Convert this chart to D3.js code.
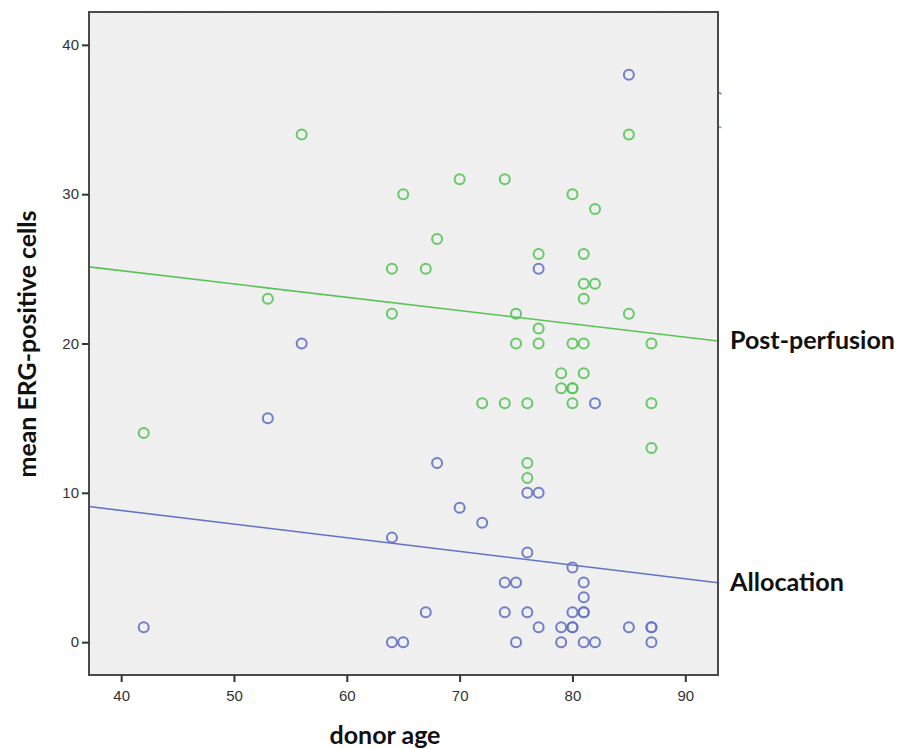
<!DOCTYPE html>
<html>
<head>
<meta charset="utf-8">
<script src="https://cdn.jsdelivr.net/npm/d3@7"></script>
<style>
  html, body { margin: 0; padding: 0; background: #ffffff; }
  svg { display: block; }
</style>
</head>
<body>
<svg id="chart" width="900" height="749"></svg>
<script>
// Donor age vs. mean ERG-positive cells, two sampling time points
const allocationAge = [42, 53, 56, 64, 64, 65, 67, 68, 70, 72, 74, 74, 75, 75, 76, 76, 76, 77, 77, 77,
  79, 79, 80, 80, 80, 80, 81, 81, 81, 81, 81, 82, 82, 85, 85, 87, 87, 87];
const allocationCells = [1, 15, 20, 7, 0, 0, 2, 12, 9, 8, 4, 2, 4, 0, 10, 6, 2, 25, 10, 1,
  1, 0, 5, 2, 1, 1, 4, 3, 2, 2, 0, 16, 0, 38, 1, 1, 1, 0];

const perfusionAge = [42, 53, 56, 64, 64, 65, 67, 68, 70, 72, 74, 74, 75, 75, 76, 76, 76, 77, 77, 77,
  79, 79, 80, 80, 80, 80, 80, 81, 81, 81, 81, 81, 82, 82, 85, 85, 87, 87, 87];
const perfusionCells = [14, 23, 34, 25, 22, 30, 25, 27, 31, 16, 31, 16, 22, 20, 16, 12, 11, 26, 21, 20,
  18, 17, 30, 20, 17, 17, 16, 26, 24, 23, 20, 18, 29, 24, 34, 22, 20, 16, 13];

// Linear fit lines: value at the left and right ends of the x range
const fitX = [37.15, 92.9];
const allocationFit = [9.08, 3.98];
const perfusionFit = [25.13, 20.17];

const xTicks = [40, 50, 60, 70, 80, 90];
const yTicks = [0, 10, 20, 30, 40];
const seriesLabels = ["Allocation", "Post-perfusion"];
const axisTitles = ["donor age", "mean ERG-positive cells"];

const blue = "#6372c4";
const green = "#58c458";

const svg = d3.select("#chart");
const plot = { left: 89, top: 12, right: 718, bottom: 675 };

const x = d3.scaleLinear().domain([37.15, 92.9]).range([plot.left, plot.right]);
const y = d3.scaleLinear().domain([-2.2, 42.2]).range([plot.bottom, plot.top]);

// Plot background with a faint grain
const defs = svg.append("defs");
const grain = defs.append("filter").attr("id", "grain").attr("x", 0).attr("y", 0).attr("width", 1).attr("height", 1);
grain.append("feTurbulence").attr("type", "fractalNoise").attr("baseFrequency", 0.9).attr("numOctaves", 1).attr("seed", 3).attr("result", "n");
grain.append("feColorMatrix").attr("in", "n").attr("type", "matrix")
  .attr("values", "0 0 0 0 0.6  0 0 0 0 0.6  0 0 0 0 0.6  0 0 0 0.06 0").attr("result", "g");
grain.append("feComposite").attr("in", "g").attr("in2", "SourceGraphic").attr("operator", "in").attr("result", "gi");
grain.append("feMerge").selectAll("feMergeNode").data(["SourceGraphic", "gi"]).join("feMergeNode").attr("in", d => d);

svg.append("rect")
  .attr("x", plot.left).attr("y", plot.top)
  .attr("width", plot.right - plot.left).attr("height", plot.bottom - plot.top)
  .attr("fill", "#f1f1f1")
  .attr("filter", "url(#grain)");

// Fit lines
const line = d3.line().x(d => x(d[0])).y(d => y(d[1]));
svg.append("path")
  .datum(fitX.map((v, i) => [v, perfusionFit[i]]))
  .attr("d", line).attr("fill", "none").attr("stroke", green).attr("stroke-width", 1.6);
svg.append("path")
  .datum(fitX.map((v, i) => [v, allocationFit[i]]))
  .attr("d", line).attr("fill", "none").attr("stroke", blue).attr("stroke-width", 1.6);

// Points
function drawPoints(ages, cells, color) {
  svg.append("g").selectAll("circle")
    .data(ages.map((a, i) => [a, cells[i]]))
    .join("circle")
    .attr("cx", d => x(d[0]))
    .attr("cy", d => y(d[1]))
    .attr("r", 5)
    .attr("fill", "none")
    .attr("stroke", color)
    .attr("stroke-width", 2)
    .attr("stroke-opacity", 0.9);
}
drawPoints(perfusionAge, perfusionCells, green);
drawPoints(allocationAge, allocationCells, blue);

// Frame
svg.append("rect")
  .attr("x", plot.left).attr("y", plot.top)
  .attr("width", plot.right - plot.left).attr("height", plot.bottom - plot.top)
  .attr("fill", "none").attr("stroke", "#4a4a4a").attr("stroke-width", 2);

// Small connector stubs on the right edge
svg.append("path").attr("d", `M${plot.right + 1},${y(36.8)} l2.5,1.5`).attr("stroke", blue).attr("stroke-width", 1.5).attr("fill", "none");
svg.append("path").attr("d", `M${plot.right + 1},${y(34.5)} l2.5,0.5`).attr("stroke", green).attr("stroke-width", 1.5).attr("fill", "none");

// Axes
const xAxis = svg.append("g")
  .attr("transform", `translate(0,${plot.bottom})`)
  .call(d3.axisBottom(x).tickValues(xTicks).tickSize(7).tickPadding(8).tickFormat(d3.format("d")));
const yAxis = svg.append("g")
  .attr("transform", `translate(${plot.left},0)`)
  .call(d3.axisLeft(y).tickValues(yTicks).tickSize(7).tickPadding(3).tickFormat(d3.format("d")));
[xAxis, yAxis].forEach(g => {
  g.select(".domain").remove();
  g.selectAll(".tick line").attr("stroke", "#333").attr("stroke-width", 2);
  g.selectAll(".tick text")
    .attr("fill", "#333")
    .style("font-family", "'Liberation Sans', Arial, sans-serif")
    .style("font-size", "15px");
});

// Text labels
function fitText(sel, width) {
  const w = sel.node().getComputedTextLength();
  const fs = parseFloat(sel.style("font-size"));
  sel.style("font-size", (fs * width / w).toFixed(2) + "px");
}
const labelFont = "Lato, 'Open Sans', sans-serif";

const postLbl = svg.append("text")
  .attr("x", 730).attr("y", y(perfusionFit[1]) + 8)
  .style("font-family", labelFont).style("font-weight", "bold").style("font-size", "22px")
  .attr("fill", "#111").text(seriesLabels[1]);
fitText(postLbl, 165);

const allocLbl = svg.append("text")
  .attr("x", 730).attr("y", y(allocationFit[1]) + 8)
  .style("font-family", labelFont).style("font-weight", "bold").style("font-size", "22px")
  .attr("fill", "#111").text(seriesLabels[0]);
fitText(allocLbl, 114);

const xTitle = svg.append("text")
  .attr("x", 385).attr("y", 744)
  .attr("text-anchor", "middle")
  .style("font-family", labelFont).style("font-weight", "bold").style("font-size", "22px")
  .attr("fill", "#111").text(axisTitles[0]);
fitText(xTitle, 111);

const yTitle = svg.append("text")
  .attr("transform", `translate(36,344) rotate(-90)`)
  .attr("text-anchor", "middle")
  .style("font-family", labelFont).style("font-weight", "bold").style("font-size", "20px")
  .attr("fill", "#111").text(axisTitles[1]);
fitText(yTitle, 267);
</script>
</body>
</html>
